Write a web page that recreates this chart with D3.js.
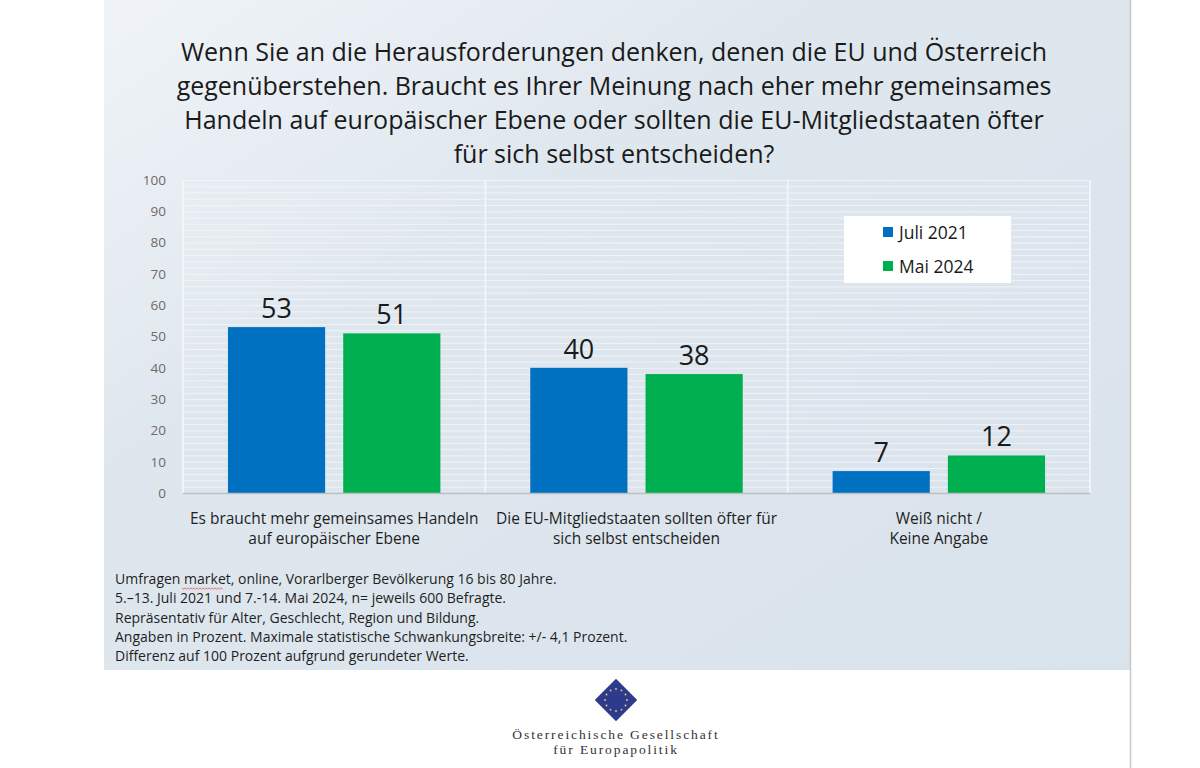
<!DOCTYPE html>
<html><head><meta charset="utf-8">
<script src="https://cdn.jsdelivr.net/npm/d3@7"></script>
<style>
html,body{margin:0;padding:0;background:#fff;}
svg{display:block;}
</style></head>
<body>
<script>
const titleLines = [
  "Wenn Sie an die Herausforderungen denken, denen die EU und Österreich",
  "gegenüberstehen. Braucht es Ihrer Meinung nach eher mehr gemeinsames",
  "Handeln auf europäischer Ebene oder sollten die EU-Mitgliedstaaten öfter",
  "für sich selbst entscheiden?"
];
const categories = ["cat1", "cat2", "cat3"];
const categoryLabels = [
  ["Es braucht mehr gemeinsames Handeln", "auf europäischer Ebene"],
  ["Die EU-Mitgliedstaaten sollten öfter für", "sich selbst entscheiden"],
  ["Weiß nicht /", "Keine Angabe"]
];
const seriesNames = ["Juli 2021", "Mai 2024"];
const juli2021 = [53, 40, 7];
const mai2024 = [51, 38, 12];
const yTicks = [0, 10, 20, 30, 40, 50, 60, 70, 80, 90, 100];
const colors = ["#0070C0", "#00B050"];
const footnotes = [
  "Umfragen market, online, Vorarlberger Bevölkerung 16 bis 80 Jahre.",
  "5.–13. Juli 2021 und 7.-14. Mai 2024, n= jeweils 600 Befragte.",
  "Repräsentativ für Alter, Geschlecht, Region und Bildung.",
  "Angaben in Prozent. Maximale statistische Schwankungsbreite: +/- 4,1 Prozent.",
  "Differenz auf 100 Prozent aufgrund gerundeter Werte."
];
const orgLines = ["Österreichische Gesellschaft", "für Europapolitik"];

(function () {
const W = 1200, H = 768;
const svg = d3.select("body").append("svg").attr("width", W).attr("height", H);
const defs = svg.append("defs");
const grad = defs.append("linearGradient").attr("id", "bg").attr("x1", "0").attr("y1", "0").attr("x2", "1").attr("y2", "1");
grad.append("stop").attr("offset", "0").attr("stop-color", "#f0f4f8");
grad.append("stop").attr("offset", "0.35").attr("stop-color", "#dfe7ee");
grad.append("stop").attr("offset", "1").attr("stop-color", "#d9e3ec");

svg.append("rect").attr("x", 104).attr("y", 0).attr("width", 1026).attr("height", 670).attr("fill", "url(#bg)");
svg.append("line").attr("x1", 1130.5).attr("x2", 1130.5).attr("y1", 0).attr("y2", H).attr("stroke", "#c8c8c8").attr("stroke-width", 1.5);

const font = "'Open Sans', 'Noto Sans', sans-serif";
svg.append("g").selectAll("text").data(titleLines).join("text")
  .attr("x", 614).attr("y", (d, i) => 61 + i * 34)
  .attr("text-anchor", "middle").attr("font-family", font).attr("font-size", 25)
  .attr("fill", "#1a1a1a").text(d => d);

const pLeft = 183, pRight = 1090, pTop = 180, pBottom = 493;
const x = d3.scaleBand().domain(categories).range([pLeft, pRight]).paddingInner(0).paddingOuter(0);
const xs = d3.scaleBand().domain(seriesNames).range([0, x.bandwidth()]).paddingInner(0.157).paddingOuter(0.39);
const y = d3.scaleLinear().domain([0, 100]).range([pBottom, pTop]);

const g = svg.append("g");
g.selectAll("line.minor").data(d3.range(2, 101, 2)).join("line")
  .attr("x1", pLeft).attr("x2", pRight)
  .attr("y1", d => y(d) + 0.5).attr("y2", d => y(d) + 0.5)
  .attr("stroke", "#f3f6f9").attr("stroke-width", 1).attr("opacity", 0.9);
g.selectAll("line.v").data([pLeft, pLeft + x.bandwidth(), pLeft + 2 * x.bandwidth(), pRight]).join("line")
  .attr("x1", d => d).attr("x2", d => d).attr("y1", pTop).attr("y2", pBottom)
  .attr("stroke", "#f5f8fb").attr("stroke-width", 1.5);

const yAxis = d3.axisLeft(y).tickValues(yTicks).tickSize(0).tickPadding(0);
const ya = svg.append("g").attr("transform", `translate(166,0)`).call(yAxis);
ya.select(".domain").remove();
ya.selectAll("text").attr("font-family", font).attr("font-size", 13.5).attr("fill", "#6b6b6b");

const series = [juli2021, mai2024];
const bars = svg.append("g");
series.forEach((vals, si) => {
  bars.selectAll(null).data(vals).join("rect")
    .attr("x", (d, i) => x(categories[i]) + xs(seriesNames[si]))
    .attr("y", d => y(d))
    .attr("width", xs.bandwidth())
    .attr("height", d => y(0) - y(d))
    .attr("fill", colors[si]);
  bars.selectAll(null).data(vals).join("text")
    .attr("x", (d, i) => x(categories[i]) + xs(seriesNames[si]) + xs.bandwidth() / 2)
    .attr("y", d => y(d) - 9)
    .attr("text-anchor", "middle").attr("font-family", font).attr("font-size", 27)
    .attr("fill", "#1a1a1a").text(d => d);
});

svg.append("line").attr("x1", pLeft).attr("x2", pRight).attr("y1", pBottom + 0.5).attr("y2", pBottom + 0.5)
  .attr("stroke", "#bfbfbf").attr("stroke-width", 1.5);

const cl = svg.append("g");
categories.forEach((c, i) => {
  categoryLabels[i].forEach((line, li) => {
    cl.append("text").attr("x", x(c) + x.bandwidth() / 2).attr("y", 524 + li * 20)
      .attr("text-anchor", "middle").attr("font-family", font).attr("font-size", 15.5)
      .attr("fill", "#1f1f1f").text(line);
  });
});

const lg = svg.append("g");
lg.append("rect").attr("x", 844).attr("y", 216).attr("width", 167).attr("height", 67).attr("fill", "#ffffff");
seriesNames.forEach((s, i) => {
  lg.append("rect").attr("x", 883).attr("y", 227 + i * 34).attr("width", 10).attr("height", 10).attr("fill", colors[i]);
  lg.append("text").attr("x", 899).attr("y", 238.5 + i * 34).attr("font-family", font).attr("font-size", 17.5)
    .attr("fill", "#1a1a1a").text(s);
});

const fn = svg.append("g");
fn.selectAll("text").data(footnotes).join("text")
  .attr("x", 115).attr("y", (d, i) => 584 + i * 19.3)
  .attr("font-family", font).attr("font-size", 14).attr("fill", "#1f1f1f").text(d => d);
const wave = d3.range(0, 42, 1.5).map((d, i) => [182 + d, 588 + (i % 2 ? 1.2 : -0.2)]);
svg.append("path").attr("d", d3.line()(wave)).attr("fill", "none").attr("stroke", "#e05050").attr("stroke-width", 0.8);

const logo = svg.append("g").attr("transform", "translate(616,700)");
logo.append("rect").attr("x", -15).attr("y", -15).attr("width", 30).attr("height", 30)
  .attr("transform", "rotate(45)").attr("fill", "#2e3a8c");
logo.selectAll("circle").data(d3.range(12)).join("circle")
  .attr("cx", d => 11 * Math.cos(d * Math.PI / 6)).attr("cy", d => 11 * Math.sin(d * Math.PI / 6))
  .attr("r", 0.9).attr("fill", "#e8d86a");
svg.append("g").selectAll("text").data(orgLines).join("text")
  .attr("x", 616).attr("y", (d, i) => 739 + i * 15)
  .attr("text-anchor", "middle").attr("font-family", "'Liberation Serif', serif").attr("font-size", 13.5)
  .attr("letter-spacing", 1.9).attr("fill", "#333").text(d => d);
})();
</script>
</body></html>
